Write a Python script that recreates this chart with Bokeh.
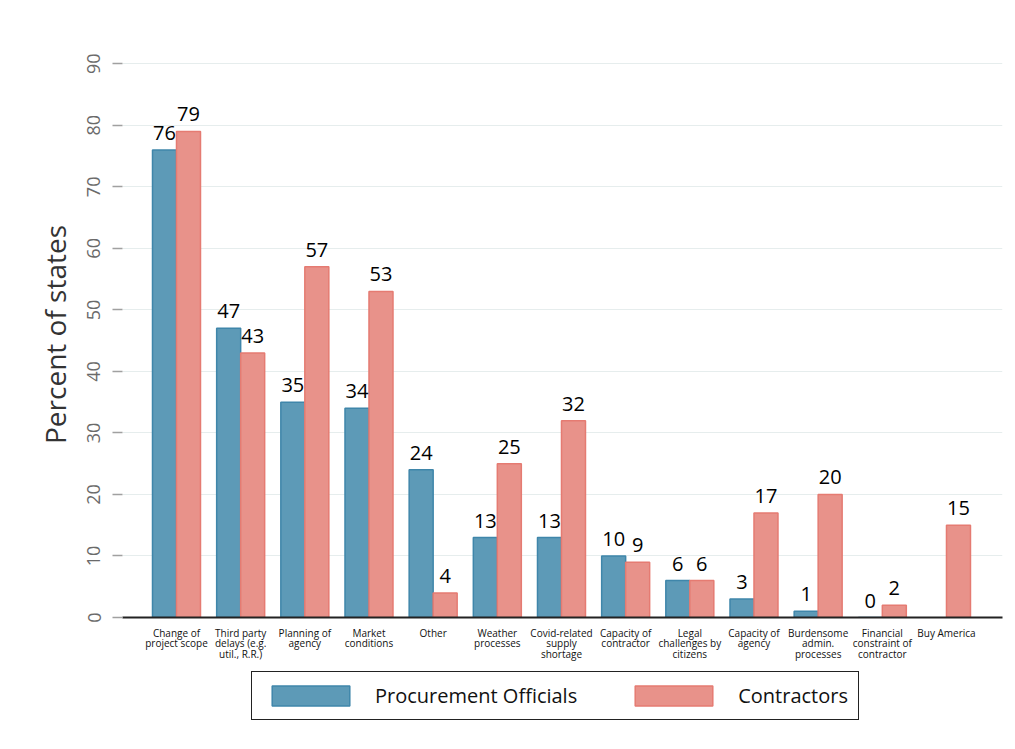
import math
from bokeh.models import ColumnDataSource, Range1d, FixedTicker, Legend, LegendItem
from bokeh.plotting import figure
from bokeh.layouts import column
from bokeh.transform import dodge
from bokeh.core.properties import value
from bokeh.embed import file_html
from bokeh.resources import INLINE

categories = [
    "Change of\nproject scope",
    "Third party\ndelays (e.g.\nutil., R.R.)",
    "Planning of\nagency",
    "Market\nconditions",
    "Other",
    "Weather\nprocesses",
    "Covid-related\nsupply\nshortage",
    "Capacity of\ncontractor",
    "Legal\nchallenges by\ncitizens",
    "Capacity of\nagency",
    "Burdensome\nadmin.\nprocesses",
    "Financial\nconstraint of\ncontractor",
    "Buy America",
]
officials = [76, 47, 35, 34, 24, 13, 13, 10, 6, 3, 1, 0, None]
contractors = [79, 43, 57, 53, 4, 25, 32, 9, 6, 17, 20, 2, 15]
y_ticks = [0, 10, 20, 30, 40, 50, 60, 70, 80, 90]

FONT = "Open Sans"
BLUE, BLUE_EDGE = "#5d9ab7", "#3f86aa"
RED, RED_EDGE = "#e8928a", "#e57b72"
BAR_W = 0.374

xs = list(range(len(categories)))
src = ColumnDataSource(data=dict(
    x=xs,
    officials=[math.nan if v is None else v for v in officials],
    contractors=contractors,
    off_lbl=["" if v is None else str(v) for v in officials],
    con_lbl=[str(v) for v in contractors],
    off_y=[0 if v is None else v for v in officials],
))

p = figure(
    frame_width=880, frame_height=566,
    x_range=Range1d(-0.8415, 12.873),
    y_range=Range1d(0, 92),
    output_backend="svg",
    toolbar_location=None,
    min_border_left=122, min_border_right=5,
    min_border_top=51, min_border_bottom=50,
)
p.outline_line_color = None
p.background_fill_color = "white"

p.vbar(x=dodge("x", -BAR_W / 2, range=p.x_range), top="officials", width=BAR_W,
       fill_color=BLUE, line_color=BLUE_EDGE, line_width=1.5, source=src)
p.vbar(x=dodge("x", BAR_W / 2, range=p.x_range), top="contractors", width=BAR_W,
       fill_color=RED, line_color=RED_EDGE, line_width=1.5, source=src)

# value labels on top of bars
p.text(x=dodge("x", -BAR_W / 2, range=p.x_range), y="off_y", text="off_lbl", source=src,
       text_align="center", text_baseline="bottom", y_offset=-10,
       text_font=value(FONT), text_font_size="20px", text_color="black")
p.text(x=dodge("x", BAR_W / 2, range=p.x_range), y="contractors", text="con_lbl", source=src,
       text_align="center", text_baseline="bottom", y_offset=-10,
       text_font=value(FONT), text_font_size="20px", text_color="black")

# x axis
p.xaxis.ticker = FixedTicker(ticks=xs)
p.xaxis.major_label_overrides = {i: c for i, c in enumerate(categories)}
p.xaxis.major_label_text_font = FONT
p.xaxis.major_label_text_font_size = "10px"
p.xaxis.major_label_text_color = "#111111"
p.xaxis.major_label_text_line_height = 0.75
p.xaxis.major_label_standoff = 2
p.xaxis.major_tick_line_color = None
p.xaxis.minor_tick_line_color = None
p.xaxis.axis_line_color = "#222222"
p.xaxis.axis_line_width = 1.8
p.xgrid.grid_line_color = None

# y axis
p.yaxis.ticker = FixedTicker(ticks=y_ticks)
p.yaxis.major_label_orientation = "vertical"
p.yaxis.major_label_text_font = FONT
p.yaxis.major_label_text_font_size = "18px"
p.yaxis.major_label_text_color = "#6a6a6a"
p.yaxis.major_label_standoff = 12
p.yaxis.major_tick_out = 10
p.yaxis.major_tick_in = 0
p.yaxis.major_tick_line_color = "#a0a0a0"
p.yaxis.major_tick_line_width = 1.5
p.yaxis.minor_tick_line_color = None
p.yaxis.axis_line_color = None
p.yaxis.axis_label = "Percent of states"
p.yaxis.axis_label_text_font = FONT
p.yaxis.axis_label_text_font_size = "28px"
p.yaxis.axis_label_text_font_style = "normal"
p.yaxis.axis_label_text_color = "#333333"
p.yaxis.axis_label_standoff = 11
p.ygrid.grid_line_color = "#e6eded"
p.ygrid.grid_line_width = 1

# legend lives in its own strip under the chart, lined up with the frame
leg = figure(
    frame_width=880, frame_height=60,
    x_range=Range1d(0, 1), y_range=Range1d(0, 1),
    x_axis_location=None, y_axis_location=None,
    output_backend="svg", toolbar_location=None,
    min_border_left=122, min_border_right=5, min_border_top=0, min_border_bottom=0,
)
leg.outline_line_color = None
leg.grid.visible = False
# swatch-only renderers: one NaN row, so nothing is drawn in the strip itself
k_off = leg.vbar(x=[math.nan], top=[math.nan], width=0.1,
                 fill_color=BLUE, line_color=BLUE_EDGE, line_width=1.5)
k_con = leg.vbar(x=[math.nan], top=[math.nan], width=0.1,
                 fill_color=RED, line_color=RED_EDGE, line_width=1.5)

legend = Legend(
    items=[LegendItem(label="Procurement Officials", renderers=[k_off]),
           LegendItem(label="Contractors", renderers=[k_con])],
    orientation="horizontal", location=(129, 7),
    glyph_width=97, glyph_height=25, label_standoff=16, spacing=48,
    padding=10, margin=0,
    label_text_font=FONT, label_text_font_size="20px", label_text_color="#111111",
    border_line_color="#222222", border_line_width=1.5, border_line_alpha=1.0,
)
leg.add_layout(legend)

layout = column(p, leg, spacing=0)
open("out.html", "w").write(file_html(layout, INLINE))
